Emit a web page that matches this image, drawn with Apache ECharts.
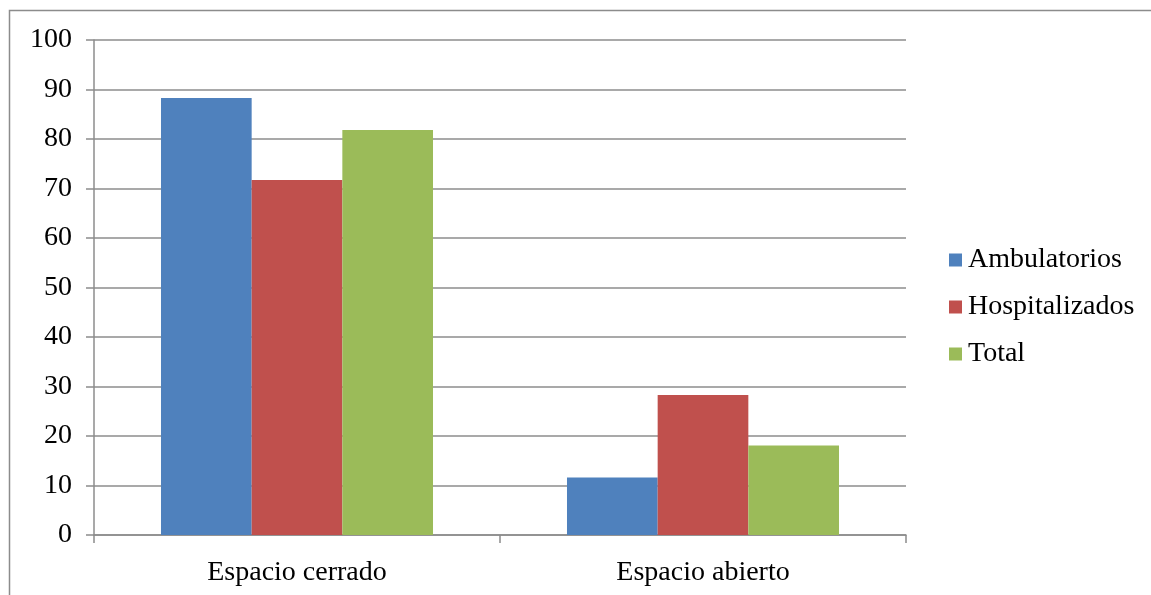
<!DOCTYPE html>
<html>
<head>
<meta charset="utf-8">
<script src="https://cdn.jsdelivr.net/npm/echarts@6/dist/echarts.min.js"></script>
<style>
  html, body { margin: 0; padding: 0; background: #fff; }
  #chart { width: 1151px; height: 595px; }
</style>
</head>
<body>
<div id="chart"></div>
<script>
// Categories, series and y-axis range
const categories = ['Espacio cerrado', 'Espacio abierto'];
const seriesNames = ['Ambulatorios', 'Hospitalizados', 'Total'];
const ambulatorios = [88.3, 11.6];
const hospitalizados = [71.7, 28.3];
const total = [81.8, 18.1];
const yMin = 0, yMax = 100, yStep = 10;

const colors = ['#4f81bd', '#c0504d', '#9bbb59'];
const fontFamily = '"Liberation Serif", "DejaVu Serif", serif';
const fontSize = 28;

const chart = echarts.init(document.getElementById('chart'), null, { renderer: 'canvas' });

const values = [ambulatorios, hospitalizados, total];

chart.setOption({
  animation: false,
  backgroundColor: '#ffffff',
  color: colors,
  textStyle: { fontFamily: fontFamily },
  // chart frame: top and left edges
  graphic: [{
    type: 'rect',
    shape: { x: 9.5, y: 10.5, width: 1300, height: 700 },
    style: { fill: 'none', stroke: '#8c8c8c', lineWidth: 1.5 },
    silent: true
  }],
  grid: { left: 94, right: 245, top: 40, bottom: 60, containLabel: false },
  legend: {
    orient: 'vertical',
    left: 944,
    top: 241,
    itemWidth: 13,
    itemHeight: 13,
    itemGap: 19,
    icon: 'rect',
    textStyle: { fontFamily: fontFamily, fontSize: fontSize, color: '#000', padding: [0, 0, 0, 1] },
    data: seriesNames
  },
  xAxis: {
    type: 'category',
    data: categories,
    axisLine: { lineStyle: { color: '#8c8c8c', width: 1.5 } },
    axisTick: { show: true, length: 8, alignWithLabel: false, lineStyle: { color: '#8c8c8c', width: 1.5 } },
    axisLabel: { color: '#000', fontSize: fontSize, fontFamily: fontFamily, margin: 24 }
  },
  yAxis: {
    type: 'value',
    min: yMin,
    max: yMax,
    interval: yStep,
    axisLine: { show: true, lineStyle: { color: '#8c8c8c', width: 1.5 } },
    axisTick: { show: true, length: 8, lineStyle: { color: '#8c8c8c', width: 1.5 } },
    axisLabel: { color: '#000', fontSize: fontSize, fontFamily: fontFamily, margin: 22 },
    splitLine: { lineStyle: { color: '#8c8c8c', width: 1.5 } }
  },
  series: seriesNames.map((name, i) => ({
    name: name,
    type: 'bar',
    data: values[i],
    barGap: '0%',
    barCategoryGap: '33%',
    itemStyle: { color: colors[i] }
  }))
});
</script>
</body>
</html>
